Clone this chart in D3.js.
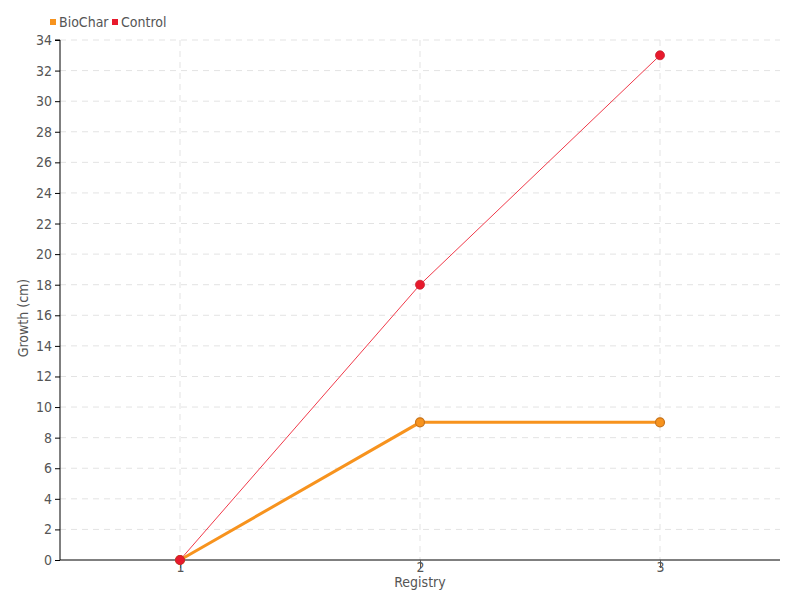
<!DOCTYPE html>
<html>
<head>
<meta charset="utf-8">
<script src="https://cdn.jsdelivr.net/npm/d3@7"></script>
<style>
  body { margin: 0; background: #fff; }
  text { font-family: "DejaVu Sans", sans-serif; font-stretch: condensed; fill: #555; }
</style>
</head>
<body>
<div id="viz"></div>
<script>
const registry = [1, 2, 3];
const biochar = [0, 9, 9];
const control = [0, 18, 33];
const yTicks = d3.range(0, 35, 2);
const seriesNames = ["BioChar", "Control"];
const seriesColors = ["#f7931e", "#e8192c"];

const w = 800, h = 600;
const margin = {top: 40, right: 20, bottom: 40, left: 60},
  width = w - margin.left - margin.right,
  height = h - margin.top - margin.bottom;

const svg = d3.select("#viz").append("svg")
  .attr("width", w).attr("height", h);

const g = svg.append("g")
  .attr("transform", `translate(${margin.left},${margin.top})`);

const x = d3.scaleLinear().domain([0.5, 3.5]).range([0, width]);
const y = d3.scaleLinear().domain([0, 34]).range([height, 0]);

// grid
g.append("g").selectAll("line").data(yTicks.filter(d => d > 0)).enter().append("line")
  .attr("x1", 0).attr("x2", width)
  .attr("y1", d => y(d)).attr("y2", d => y(d))
  .attr("stroke", "#e3e3e3").attr("stroke-dasharray", "6,5");
g.append("g").selectAll("line").data(registry).enter().append("line")
  .attr("x1", d => x(d)).attr("x2", d => x(d))
  .attr("y1", 0).attr("y2", height)
  .attr("stroke", "#e3e3e3").attr("stroke-dasharray", "6,5");

// axes
const yAxis = g.append("g")
  .call(d3.axisLeft(y).tickValues(yTicks).tickSize(5).tickPadding(3));
yAxis.selectAll("text").style("font-size", "14px");
yAxis.select(".domain").attr("stroke", "#000").attr("d", `M-5,0H0V${height}`);

const xAxis = g.append("g")
  .attr("transform", `translate(0,${height})`)
  .call(d3.axisBottom(x).tickValues(registry).tickFormat(d3.format("d")).tickSize(8).tickPadding(-6));
xAxis.selectAll("text").style("font-size", "14px");
xAxis.selectAll(".tick line").attr("stroke", "#555");
xAxis.select(".domain").attr("stroke", "#000").attr("d", `M0,0H${width}`);

// axis titles
g.append("text")
  .attr("x", width / 2).attr("y", height + 27)
  .attr("text-anchor", "middle").style("font-size", "14px")
  .text("Registry");
g.append("text")
  .attr("transform", `translate(${-32},${height / 2 + 18}) rotate(-90)`)
  .attr("text-anchor", "middle").style("font-size", "14px")
  .text("Growth (cm)");

// lines
const line = d3.line().x((d, i) => x(registry[i])).y(d => y(d));

g.append("path").datum(control)
  .attr("fill", "none").attr("stroke", "#f03a4a").attr("stroke-width", 1)
  .attr("d", line);
g.append("path").datum(biochar)
  .attr("fill", "none").attr("stroke", seriesColors[0]).attr("stroke-width", 3)
  .attr("d", line);

g.selectAll(".bc").data(biochar).enter().append("circle")
  .attr("class", "bc")
  .attr("cx", (d, i) => x(registry[i])).attr("cy", d => y(d)).attr("r", 4.5)
  .attr("fill", seriesColors[0]).attr("stroke", "#c8731a").attr("stroke-width", 1.2);
g.selectAll(".ct").data(control).enter().append("circle")
  .attr("class", "ct")
  .attr("cx", (d, i) => x(registry[i])).attr("cy", d => y(d)).attr("r", 4.5)
  .attr("fill", seriesColors[1]).attr("stroke", "#c4202e").attr("stroke-width", 0.8);

// legend
const legend = svg.append("g").attr("transform", "translate(50,22)");
const legX = [0, 62];
seriesNames.forEach((name, i) => {
  legend.append("rect")
    .attr("x", legX[i]).attr("y", -3).attr("width", 6).attr("height", 6)
    .attr("fill", seriesColors[i]);
  legend.append("text")
    .attr("x", legX[i] + 9).attr("y", 5)
    .style("font-size", "14px").text(name);
});
</script>
</body>
</html>
